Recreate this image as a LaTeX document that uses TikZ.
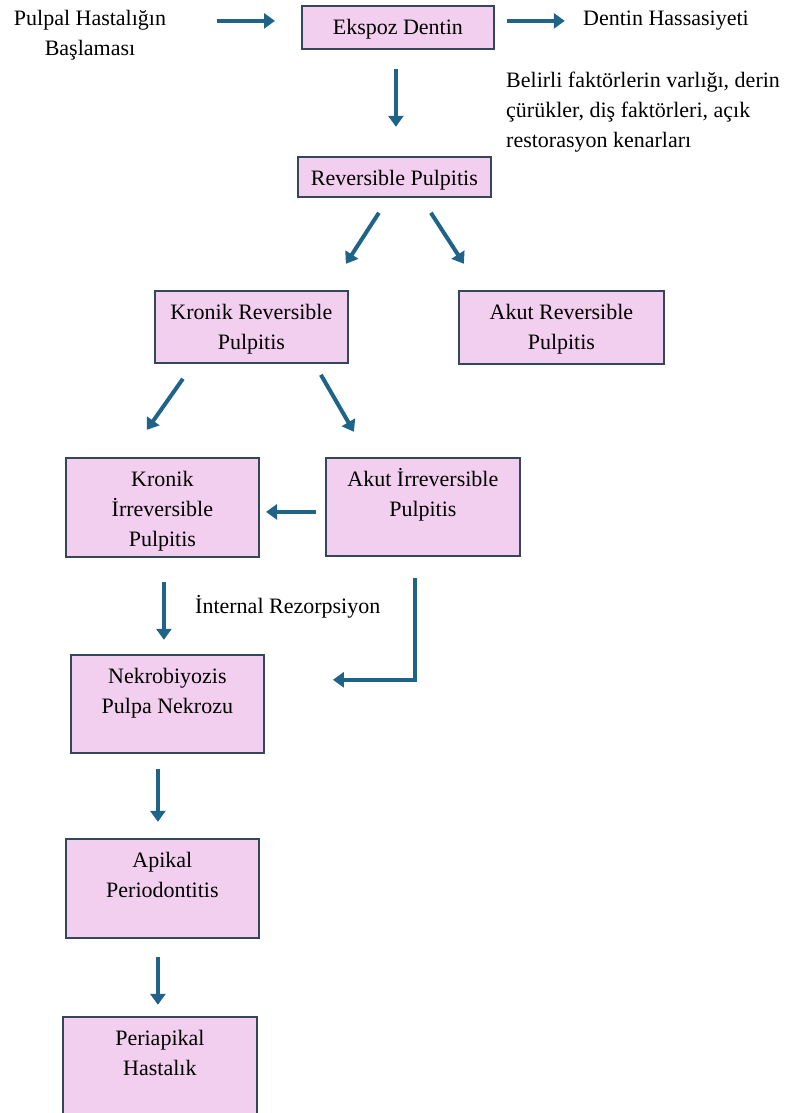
\documentclass[tikz,border=0pt]{standalone}
\usepackage{fontspec}
\setmainfont{Liberation Serif}
\usetikzlibrary{arrows.meta}
\definecolor{boxfill}{HTML}{F2CEEF}
\definecolor{boxline}{HTML}{34475A}
\definecolor{flowblue}{HTML}{1F6388}

\begin{document}
\begin{tikzpicture}[x=1pt, y=-1pt,
  font=\fontsize{22}{30}\selectfont,
  stepbox/.style={draw=boxline, line width=1.8pt, fill=boxfill,
    anchor=north west, inner sep=0pt, text width=193pt, align=flush center,
    text height=29pt},
  plaintext/.style={inner sep=0pt},
  flow/.style={draw=flowblue, line width=4pt,
    -{Triangle[length=11pt,width=15pt]}}]
\useasboundingbox (0,0) rectangle (787,1113);
\clip (0,0) rectangle (787,1113);
% boxes
\node[stepbox, text width=192pt, text depth=14pt] (ekspoz) at (301,5) {Ekspoz Dentin};
\node[stepbox, text depth=11pt] (revp) at (297,156) {Reversible Pulpitis};
\node[stepbox, text depth=43pt] (kronrev) at (154,290) {Kronik Reversible\\Pulpitis};
\node[stepbox, text width=205pt, text depth=44pt] (akutrev) at (458,290) {Akut Reversible\\Pulpitis};
\node[stepbox, text depth=70pt] (kronirr) at (65,457) {Kronik\\İrreversible\\Pulpitis};
\node[stepbox, text width=194pt, text depth=69pt] (akutirr) at (325,457) {Akut İrreversible\\Pulpitis};
\node[stepbox, text depth=69pt] (nekro) at (70,654) {Nekrobiyozis\\Pulpa Nekrozu};
\node[stepbox, text depth=70pt] (apikal) at (65,838) {Apikal\\Periodontitis};
\node[stepbox, text width=194pt, text depth=70pt] (peri) at (62,1016) {Periapikal\\Hastalık};
% plain texts
\node[plaintext, text width=170pt, align=flush center, anchor=base] (basla) at (90,26) {Pulpal Hastalığın\\Başlaması};
\node[plaintext, anchor=base west] (hassas) at (583,26) {Dentin Hassasiyeti};
\node[plaintext, text width=285pt, align=flush left, anchor=base west] (faktor) at (506,88)
  {Belirli faktörlerin varlığı, derin\\çürükler, diş faktörleri, açık\\restorasyon kenarları};
\node[plaintext, anchor=base west] (rezorp) at (195,613) {İnternal Rezorpsiyon};
% arrows
\draw[flow] (ekspoz.west) ++(-84,-6.5) -- ++(58,0);
\draw[flow] (ekspoz.east) ++(12,-6.5) -- ++(58,0);
\draw[flow] (ekspoz.south) ++(-2,19) -- ++(0,58);
\draw[flow] (revp.south) ++(-15.5,15) -- ++(-33,51);
\draw[flow] (revp.south) ++(36.5,15) -- ++(33,51);
\draw[flow] (kronrev.south) ++(-68.5,15) -- ++(-36,51);
\draw[flow] (kronrev.south) ++(69.5,11) -- ++(33,57);
\draw[flow] (akutirr.west) ++(-9,5) -- ++(-50,0);
\draw[flow] (kronirr.south) ++(1.5,24) -- ++(0,58);
\draw[flow] (akutirr.south) ++(-8,21) -- ++(0,102) -- ++(-82,0);
\draw[flow] (nekro.south) ++(-9.5,15) -- ++(0,53);
\draw[flow] (apikal.south) ++(-4.5,18) -- ++(0,48);
\end{tikzpicture}
\end{document}
